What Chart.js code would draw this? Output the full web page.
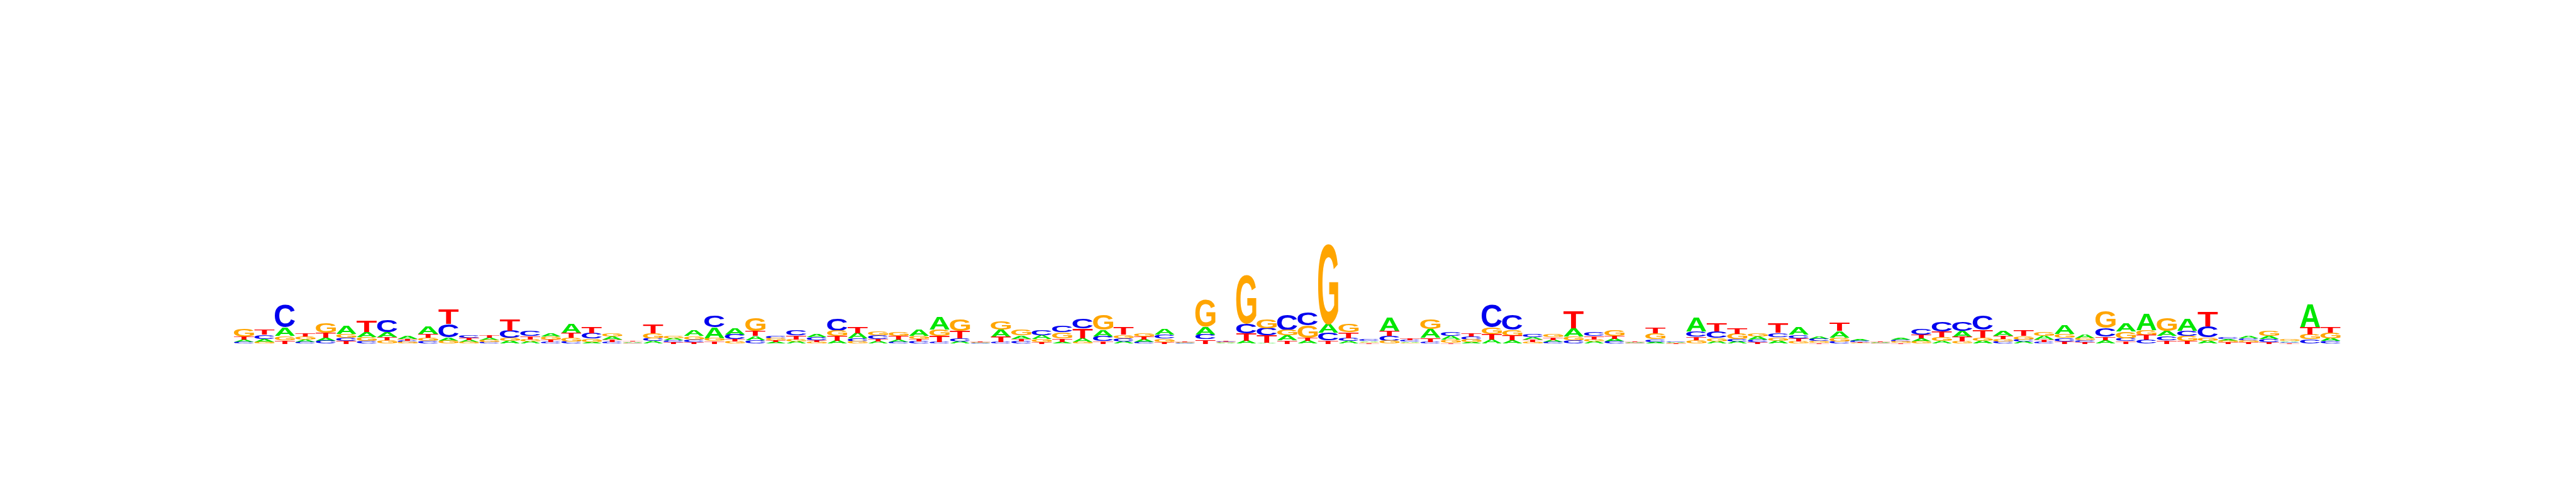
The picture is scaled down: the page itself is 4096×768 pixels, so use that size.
<!DOCTYPE html>
<html lang="en">
<head>
<meta charset="UTF-8">
<title>Sequence logo</title>
<script src="https://cdn.jsdelivr.net/npm/chart.js@4.4.1/dist/chart.umd.min.js"></script>
<style>
  body { margin: 0; background: #fff; }
  #wrap { width: 4096px; height: 768px; }
</style>
</head>
<body>
<div id="wrap"><canvas id="logo" width="4096" height="768"></canvas></div>
<script>
// one entry per alignment column
const positions = Array.from({ length: 103 }, (_, i) => String(i + 1));

// letter heights (bits)
const aBits = [.013,.018,.051,.016,.020,.051,.031,.029,.018,.047,
  .022,.013,.014,.018,.013,.021,.060,.011,.020,.005,
  .016,.013,.033,.067,.038,.027,.009,.013,.021,.018,
  .033,.013,.013,.040,.082,.013,.004,.047,.022,.024,
  .011,.024,.042,.013,.018,.033,.004,.047,.004,.018,
  .007,.029,.018,.053,.016,.007,.084,.007,.056,.024,
  .009,.027,.020,.016,.012,.051,.013,.018,.004,.011,
  .004,.087,.013,.013,.018,.018,.044,.016,.042,.009,
  .004,.011,.020,.016,.038,.018,.029,.012,.024,.053,
  .024,.022,.051,.102,.029,.076,.018,.011,.013,.019,
  .007,.144,.018];
const cBits = [.011,.027,.136,.009,.018,.019,.016,.078,.010,.016,
  .084,.016,.009,.044,.029,.011,.013,.033,.011,.003,
  .018,.011,.016,.073,.029,.022,.016,.029,.020,.076,
  .020,.024,.011,.013,.011,.022,.002,.009,.013,.029,
  .039,.062,.029,.020,.009,.024,.002,.031,.005,.060,
  .045,.096,.084,.047,.018,.008,.029,.008,.009,.025,
  .019,.138,.091,.022,.011,.020,.027,.013,.002,.016,
  .005,.031,.040,.016,.016,.027,.022,.015,.013,.008,
  .002,.010,.033,.062,.058,.087,.013,.013,.009,.022,
  .011,.053,.018,.024,.027,.032,.067,.012,.012,.018,
  .006,.027,.016];
const gBits = [.044,.010,.027,.019,.062,.024,.024,.020,.009,.020,
  .018,.009,.013,.020,.013,.020,.024,.020,.022,.004,
  .031,.014,.020,.018,.013,.082,.013,.013,.011,.033,
  .013,.025,.026,.020,.039,.073,.004,.053,.038,.020,
  .038,.011,.091,.022,.022,.022,.004,.167,.004,.304,
  .056,.033,.076,.497,.049,.006,.018,.006,.060,.018,
  .018,.040,.038,.011,.018,.024,.014,.038,.003,.036,
  .003,.022,.022,.033,.019,.022,.013,.009,.024,.005,
  .003,.009,.013,.024,.013,.020,.016,.022,.025,.027,
  .013,.102,.042,.031,.082,.031,.022,.010,.011,.029,
  .008,.028,.033];
const tBits = [.020,.029,.022,.022,.031,.018,.071,.022,.011,.024,
  .092,.015,.016,.071,.022,.013,.029,.038,.013,.006,
  .053,.009,.011,.016,.016,.029,.011,.027,.011,.029,
  .041,.016,.024,.016,.038,.044,.005,.033,.016,.009,
  .022,.058,.016,.044,.019,.011,.005,.027,.006,.044,
  .044,.022,.019,.020,.036,.004,.029,.009,.027,.007,
  .022,.033,.029,.013,.016,.107,.022,.019,.005,.037,
  .002,.022,.051,.034,.009,.058,.020,.007,.049,.006,
  .005,.005,.024,.036,.029,.047,.018,.033,.016,.013,
  .010,.022,.016,.029,.022,.018,.091,.009,.009,.011,
  .005,.044,.036];

const letters = ['A', 'C', 'G', 'T'];
const letterColors = { A: '#00e600', C: '#0000ee', G: '#ffa500', T: '#ff0000' };
const heights = { A: aBits, C: cBits, G: gBits, T: tBits };

// smallest letter at the bottom, tallest on top -> floating bars [low, high]
const spans = { A: [], C: [], G: [], T: [] };
positions.forEach((p, i) => {
  const order = letters.slice().sort((a, b) => heights[a][i] - heights[b][i]);
  let base = 0;
  order.forEach(l => {
    spans[l].push([base, base + heights[l][i]]);
    base += heights[l][i];
  });
});

// glyph bounds, measured once per letter
const glyphFont = 'bold 200px "Liberation Sans", Arial, sans-serif';
const glyphBox = {};
function measureGlyph(ctx, ch) {
  if (!glyphBox[ch]) {
    ctx.save();
    ctx.font = glyphFont;
    const m = ctx.measureText(ch);
    ctx.restore();
    glyphBox[ch] = {
      l: m.actualBoundingBoxLeft, r: m.actualBoundingBoxRight,
      a: m.actualBoundingBoxAscent, d: m.actualBoundingBoxDescent
    };
  }
  return glyphBox[ch];
}

// stretch a letter so its ink fills the bar rectangle
function drawGlyph(ctx, ch, color, left, top, w, h) {
  const g = measureGlyph(ctx, ch);
  ctx.save();
  ctx.translate(left, top);
  ctx.scale(w / (g.l + g.r), h / (g.a + g.d));
  ctx.font = glyphFont;
  ctx.textAlign = 'left';
  ctx.textBaseline = 'alphabetic';
  ctx.fillStyle = color;
  ctx.fillText(ch, g.l, g.a);
  ctx.restore();
}

const glyphPlugin = {
  id: 'glyphs',
  afterDatasetsDraw(chart) {
    const ctx = chart.ctx;
    chart.data.datasets.forEach((ds, di) => {
      chart.getDatasetMeta(di).data.forEach(bar => {
        const { x, y, base, width } = bar.getProps(['x', 'y', 'base', 'width'], true);
        const h = Math.abs(base - y);
        if (h < 0.4) return;
        drawGlyph(ctx, ds.label, letterColors[ds.label], x - width / 2, Math.min(y, base), width, h);
      });
    });
  }
};

new Chart(document.getElementById('logo'), {
  type: 'bar',
  data: {
    labels: positions,
    datasets: letters.map(l => ({
      label: l,
      data: spans[l],
      backgroundColor: 'rgba(0,0,0,0)',
      borderWidth: 0,
      grouped: false,
      barPercentage: 0.985,
      categoryPercentage: 1
    }))
  },
  options: {
    responsive: false,
    animation: false,
    devicePixelRatio: 1,
    layout: { padding: { left: 371.7, right: 374.1, top: 34.7, bottom: 221.5 } },
    plugins: { legend: { display: false }, tooltip: { enabled: false } },
    scales: {
      x: { display: false, offset: true },
      y: { display: false, min: 0, max: 2 }
    }
  },
  plugins: [glyphPlugin]
});
</script>
</body>
</html>
